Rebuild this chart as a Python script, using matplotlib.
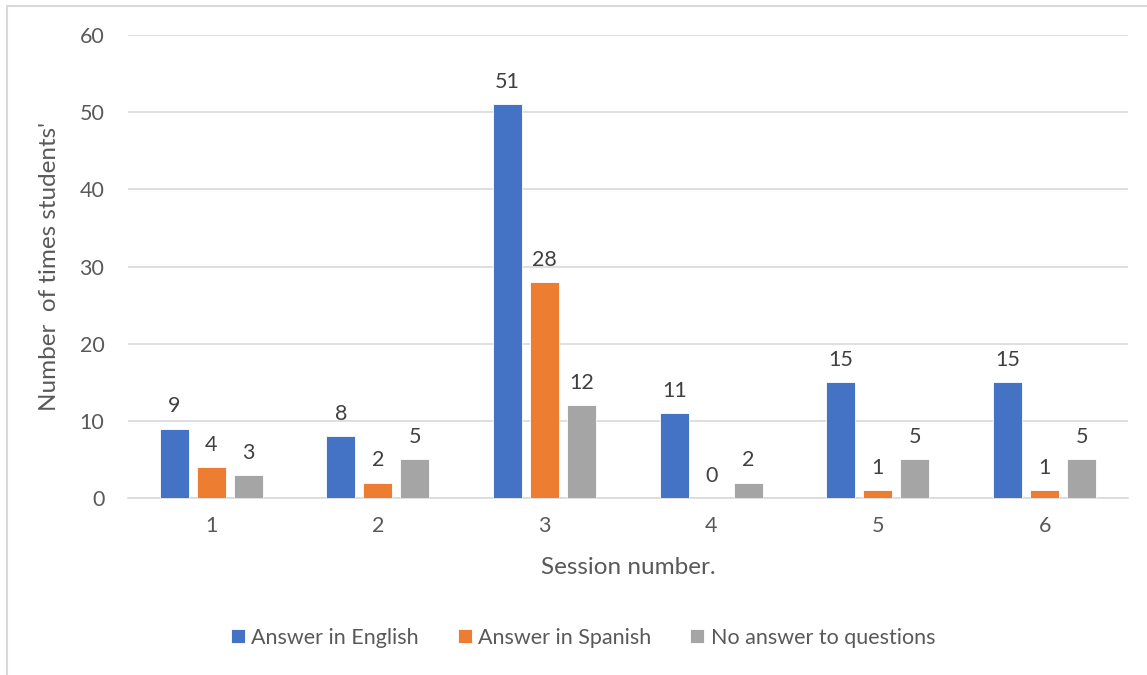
import numpy as np
import matplotlib.pyplot as plt
from matplotlib.patches import Rectangle

sessions = ['1', '2', '3', '4', '5', '6']
english = [9, 8, 51, 11, 15, 15]
spanish = [4, 2, 28, 0, 1, 1]
no_answer = [3, 5, 12, 2, 5, 5]

series = [
    ('Answer in English', english, '#4472C4'),
    ('Answer in Spanish', spanish, '#ED7D31'),
    ('No answer to questions', no_answer, '#A5A5A5'),
]

text_col = '#595959'
grid_col = '#D9D9D9'
plt.rcParams['font.family'] = ['Lato', 'DejaVu Sans']

fig = plt.figure(figsize=(11.47, 6.75), dpi=100)
ax = fig.add_axes([0.1116, 0.2622, 0.8718, 0.6859])

# outer chart frame (runs off the right and bottom edge)
fig.patches.append(Rectangle((7 / 1147, -0.1), 1.2, 1 - 6 / 675 + 0.1,
                             transform=fig.transFigure, fill=False,
                             edgecolor=grid_col, linewidth=1.5, zorder=0))

x = np.arange(len(sessions))
width = 0.174
step = 0.222
for i, (name, vals, col) in enumerate(series):
    pos = x + (i - 1) * step
    ax.bar(pos, vals, width, color=col, label=name, zorder=3,
           edgecolor='white', linewidth=0.6)
    for xp, v in zip(pos, vals):
        ax.text(xp, v + 1.6, str(v), ha='center', va='bottom',
                fontsize=15.5, color='#404040')

ax.set_xlim(-0.5, len(sessions) - 0.5)
ax.set_ylim(0, 60)
ax.set_yticks(range(0, 61, 10))
ax.set_xticks(x)
ax.set_xticklabels(sessions)
ax.yaxis.grid(True, color=grid_col, linewidth=1.2, zorder=0)
ax.set_axisbelow(True)
for s in ['top', 'right', 'left']:
    ax.spines[s].set_visible(False)
ax.spines['bottom'].set_color(grid_col)
ax.spines['bottom'].set_linewidth(1.2)
ax.tick_params(length=0, labelsize=15.5, colors=text_col)
ax.tick_params(axis='y', pad=17)
ax.tick_params(axis='x', pad=13)

ax.set_xlabel('Session number.', fontsize=17.5, color=text_col, labelpad=15)
ax.set_ylabel('Number  of times students\'', fontsize=17.5, color=text_col,
              labelpad=14)

ax.legend(loc='center', bbox_to_anchor=(0.455, -0.302),
          ncol=3, frameon=False, fontsize=15.5, labelcolor=text_col,
          handlelength=0.65, handleheight=0.65, handletextpad=0.3,
          columnspacing=1.8)

fig.savefig('out.png', dpi=100, facecolor='white')
